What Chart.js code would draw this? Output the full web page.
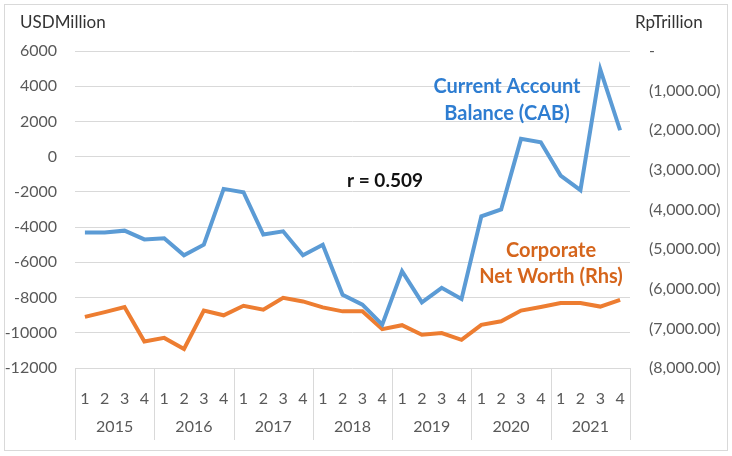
<!DOCTYPE html>
<html>
<head>
<meta charset="utf-8">
<script src="https://cdn.jsdelivr.net/npm/chart.js@4.4.1/dist/chart.umd.min.js"></script>
<style>
  html, body { margin: 0; padding: 0; background: #fff; }
  #wrap { width: 732px; height: 456px; }
</style>
</head>
<body>
<div id="wrap"><canvas id="cabChart" width="732" height="456"></canvas></div>
<script>
// data
const years    = ["2015", "2016", "2017", "2018", "2019", "2020", "2021"];
const quarters = ["1", "2", "3", "4"];

// Current Account Balance, USD million (left axis)
const cabValues = [-4300, -4300, -4200, -4700, -4630, -5600, -5000, -1830,
                   -2020, -4420, -4240, -5600, -5000, -7840, -8400, -9540,
                   -6500, -8270, -7450, -8080, -3390, -3000, 1010, 820,
                   -1070, -1900, 4950, 1500];

// Corporate Net Worth, Rp trillion (right axis)
const cnwValues = [-6710, -6590, -6460, -7330, -7240, -7520, -6550, -6670,
                   -6430, -6530, -6230, -6320, -6470, -6570, -6570, -7020,
                   -6920, -7160, -7120, -7290, -6910, -6820, -6550, -6460,
                   -6360, -6360, -6450, -6280];

const leftTicks  = { min: -12000, max: 6000, step: 2000 };
const rightTicks = { min: -8000, max: 0, step: 1000 };

// one label per quarter, years drawn by the plugin below
const labels = [];
years.forEach(() => quarters.forEach(q => labels.push(q)));

const FONT = "Lato, 'Open Sans', sans-serif";
const GREY = "#595959";
const LINE = "#d9d9d9";

// (1,000.00) style for the right axis
function rpFormat(v) {
  if (v === 0) return "-";
  const s = Math.abs(v).toLocaleString("en-US", { minimumFractionDigits: 2, maximumFractionDigits: 2 });
  return v < 0 ? "(" + s + ")" : s;
}

// ── extras: border, axis titles, year row, annotations ──
const extras = {
  id: "extras",
  afterDraw(chart) {
    const c = chart.ctx;
    const x = chart.scales.x;
    const area = chart.chartArea;
    c.save();

    // outer border
    c.strokeStyle = LINE;
    c.lineWidth = 1;
    c.strokeRect(4.5, 4.5, 723, 446);

    // year separators + year labels
    const half = (x.getPixelForValue(1) - x.getPixelForValue(0)) / 2;
    c.beginPath();
    for (let k = 0; k <= years.length; k++) {
      const px = k < years.length
        ? x.getPixelForValue(k * 4) - half
        : x.getPixelForValue(labels.length - 1) + half;
      c.moveTo(Math.round(px) + 0.5, area.bottom);
      c.lineTo(Math.round(px) + 0.5, area.bottom + 72);
    }
    c.stroke();

    c.fillStyle = GREY;
    c.font = "16px " + FONT;
    c.textAlign = "center";
    c.textBaseline = "middle";
    years.forEach((y, k) => {
      const mid = (x.getPixelForValue(k * 4) + x.getPixelForValue(k * 4 + 3)) / 2;
      c.fillText(y, mid, area.bottom + 59);
    });

    // axis unit titles
    c.fillStyle = "#333";
    c.font = "17px " + FONT;
    c.textAlign = "left";
    c.fillText("USDMillion", 20, 23);
    c.fillText("RpTrillion", 635, 23);

    // annotations
    c.textAlign = "center";
    c.font = "bold 20px " + FONT;
    c.fillStyle = "#2e7dd1";
    c.fillText("Current Account", 507, 87);
    c.fillText("Balance (CAB)", 507, 114);

    c.fillStyle = "#d5651c";
    c.fillText("Corporate", 551, 251);
    c.fillText("Net Worth (Rhs)", 551, 277);

    c.fillStyle = "#111";
    c.font = "bold 19px " + FONT;
    c.fillText("r = 0.509", 385, 181);

    c.restore();
  }
};

new Chart(document.getElementById("cabChart"), {
  type: "line",
  data: {
    labels,
    datasets: [{
      label: "Current Account Balance (CAB)",
      data: cabValues,
      yAxisID: "y",
      borderColor: "#5b9bd5",
      backgroundColor: "#5b9bd5",
      borderWidth: 4,
      pointRadius: 0,
      tension: 0
    }, {
      label: "Corporate Net Worth (Rhs)",
      data: cnwValues,
      yAxisID: "y1",
      borderColor: "#ed7d31",
      backgroundColor: "#ed7d31",
      borderWidth: 4,
      pointRadius: 0,
      tension: 0
    }]
  },
  options: {
    responsive: false,
    animation: false,
    layout: { padding: { top: 51, left: 0, right: 0, bottom: 0 } },
    plugins: { legend: { display: false }, tooltip: { enabled: false } },
    scales: {
      x: {
        offset: true,
        grid: { display: false },
        border: { display: false },
        ticks: { color: GREY, font: { family: FONT, size: 16 }, padding: 13, autoSkip: false, maxRotation: 0 },
        afterFit(s) { s.height = 88; }
      },
      y: {
        position: "left",
        min: leftTicks.min,
        max: leftTicks.max,
        ticks: { stepSize: leftTicks.step, color: GREY, font: { family: FONT, size: 16 }, padding: 18, callback: v => String(v) },
        grid: { color: LINE, drawTicks: false },
        border: { display: false },
        afterFit(s) { s.width = 75; }
      },
      y1: {
        position: "right",
        min: rightTicks.min,
        max: rightTicks.max,
        ticks: { stepSize: rightTicks.step, color: GREY, font: { family: FONT, size: 16 }, padding: 19, callback: rpFormat },
        grid: { display: false, drawTicks: false },
        border: { display: false },
        afterFit(s) { s.width = 102; }
      }
    }
  },
  plugins: [extras]
});
</script>
</body>
</html>
